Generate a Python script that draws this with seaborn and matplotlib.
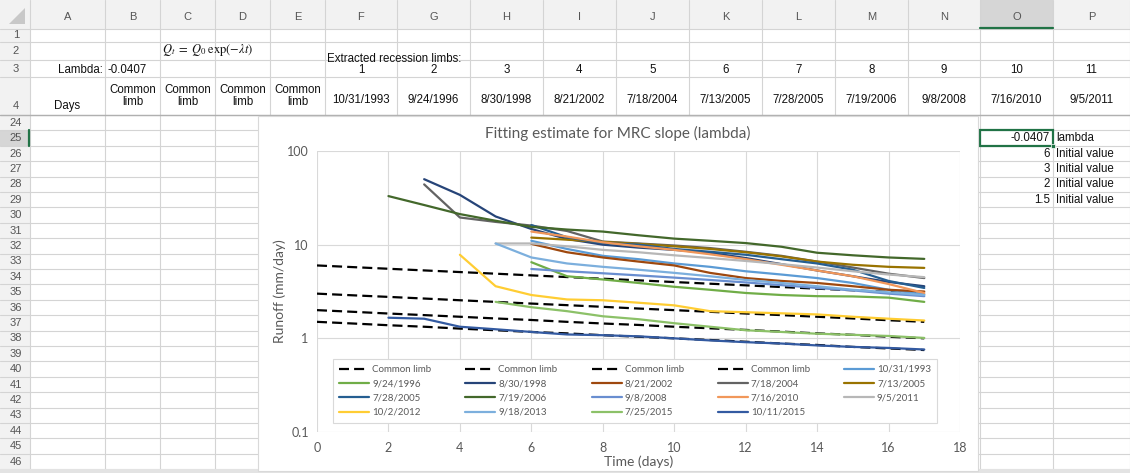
import matplotlib
matplotlib.use("Agg")
import matplotlib.pyplot as plt
from matplotlib.lines import Line2D
from matplotlib.patches import Rectangle, Polygon
from matplotlib.ticker import NullLocator
import seaborn as sns

# ---------------- data ----------------
days = list(range(0, 18))
lambda_value = -0.0407
initial_values = [6, 3, 2, 1.5]

# common limbs  Q0*exp(-0.0407 t), read at t = 0..17
common_limb_6 = [6.00, 5.76, 5.53, 5.31, 5.10, 4.90, 4.70, 4.51, 4.33, 4.16, 3.99, 3.83, 3.68, 3.53, 3.39, 3.26, 3.13, 3.00]
common_limb_3 = [3.00, 2.88, 2.77, 2.66, 2.55, 2.45, 2.35, 2.26, 2.17, 2.08, 2.00, 1.92, 1.84, 1.77, 1.70, 1.63, 1.56, 1.50]
common_limb_2 = [2.00, 1.92, 1.84, 1.77, 1.70, 1.63, 1.57, 1.50, 1.44, 1.39, 1.33, 1.28, 1.23, 1.18, 1.13, 1.09, 1.04, 1.00]
common_limb_15 = [1.50, 1.44, 1.38, 1.33, 1.27, 1.22, 1.17, 1.13, 1.08, 1.04, 1.00, 0.96, 0.92, 0.88, 0.85, 0.81, 0.78, 0.75]

# extracted recession limbs (first day, runoff values)
limb_dates = ["10/31/1993", "9/24/1996", "8/30/1998", "8/21/2002", "7/18/2004",
              "7/13/2005", "7/28/2005", "7/19/2006", "9/8/2008", "7/16/2010",
              "9/5/2011", "10/2/2012", "9/18/2013", "7/25/2015", "10/11/2015"]
limb_start_days = [6, 6, 3, 6, 3, 6, 6, 2, 6, 6, 5, 4, 5, 5, 2]

q_1993_10_31 = [11.0, 9.0, 7.6, 7.0, 6.3, 5.8, 5.2, 4.8, 4.4, 3.9, 3.3, 2.95]
q_1996_09_24 = [6.5, 4.6, 4.25, 3.9, 3.55, 3.3, 3.05, 2.9, 2.82, 2.8, 2.72, 2.45]
q_1998_08_30 = [50, 34, 20, 14.7, 11.5, 10.0, 9.3, 8.8, 8.2, 7.2, 6.2, 5.3, 4.6, 4.0, 3.6]
q_2002_08_21 = [10.2, 8.3, 7.3, 6.6, 6.0, 5.0, 4.4, 4.1, 3.9, 3.6, 3.3, 3.16]
q_2004_07_18 = [44, 19.5, 17.5, 16.0, 14.0, 10.8, 10.3, 9.8, 9.2, 8.4, 7.6, 6.6, 5.7, 4.9, 4.4]
q_2005_07_13 = [11.9, 11.3, 10.7, 10.2, 9.6, 9.0, 8.3, 7.5, 6.6, 6.1, 5.8, 5.65]
q_2005_07_28 = [16.2, 12.0, 10.4, 10.0, 9.0, 8.4, 7.8, 7.0, 6.3, 5.4, 4.1, 3.45]
q_2006_07_19 = [33, 26.5, 21.2, 18.0, 15.5, 14.5, 13.8, 12.6, 11.6, 11.0, 10.4, 9.5, 8.2, 7.7, 7.3, 7.05]
q_2008_09_08 = [5.5, 5.2, 4.95, 4.7, 4.45, 4.2, 3.95, 3.7, 3.45, 3.25, 3.0, 2.82]
q_2010_07_16 = [13.8, 12.2, 10.6, 9.6, 8.8, 7.9, 7.0, 6.1, 5.3, 4.6, 3.8, 3.05]
q_2011_09_05 = [10.3, 10.3, 9.6, 8.8, 8.3, 7.7, 7.2, 6.7, 6.2, 5.7, 5.2, 4.8, 4.5]
q_2012_10_02 = [7.8, 3.6, 2.9, 2.6, 2.55, 2.4, 2.25, 1.95, 1.9, 1.85, 1.8, 1.7, 1.62, 1.55]
q_2013_09_18 = [10.3, 7.3, 6.3, 5.8, 5.4, 5.0, 4.6, 4.2, 3.9, 3.6, 3.3, 3.1, 2.9]
q_2015_07_25 = [2.45, 2.15, 1.95, 1.72, 1.6, 1.45, 1.33, 1.22, 1.17, 1.12, 1.09, 1.06, 1.01]
q_2015_10_11 = [1.66, 1.62, 1.33, 1.25, 1.17, 1.1, 1.08, 1.05, 1.0, 0.95, 0.91, 0.88, 0.84, 0.81, 0.79, 0.76]

limb_colors = ["#5B9BD5", "#70AD47", "#264478", "#9E480E", "#636363",
               "#997300", "#255E91", "#43682B", "#698ED0", "#F1975A",
               "#B7B7B7", "#FFCD33", "#7CAFDD", "#8CC168", "#335AA1"]

x_ticks = [0, 2, 4, 6, 8, 10, 12, 14, 16, 18]
y_ticks = [0.1, 1, 10, 100]
y_tick_labels = ["0.1", "1", "10", "100"]

col_letters = list("ABCDEFGHIJKLMNOP")
limb_numbers = list(range(1, 12))

# ---------------- figure ----------------
sns.set_style("white")
plt.rcParams["font.family"] = ["Lato", "DejaVu Sans"]
plt.rcParams["mathtext.fontset"] = "stix"

W, H = 1130, 473
fig = plt.figure(figsize=(W / 100, H / 100), dpi=100)
bg = fig.add_axes([0, 0, 1, 1])
bg.set_xlim(0, W)
bg.set_ylim(H, 0)
bg.axis("off")

SHEET_FONT = ["Liberation Sans", "DejaVu Sans"]
grid_c = "#D4D4D4"
col_bounds = [30, 105, 160, 215, 270, 325, 397, 470, 543, 616, 689, 762, 835, 908, 980, 1053, 1130]
row_bounds = [0, 29, 42, 60, 77, 115] + [115 + 15.4 * i for i in range(1, 24)]
row_labels = ["1", "2", "3", "4"] + [str(k) for k in range(24, 47)]

# header backgrounds
bg.add_patch(Rectangle((0, 0), W, 29, fc="#F2F2F2", ec="none", zorder=0))
bg.add_patch(Rectangle((0, 0), 30, H, fc="#F2F2F2", ec="none", zorder=0))
# selected column O / row 25 headers
bg.add_patch(Rectangle((980, 0), 73, 29, fc="#D6D6D6", ec="none", zorder=0.5))
bg.plot([980, 1053], [28.3, 28.3], color="#217346", lw=1.6, zorder=1)
r25_top = row_bounds[6]
bg.add_patch(Rectangle((0, r25_top), 30, 15.4, fc="#D6D6D6", ec="none", zorder=0.5))
bg.plot([29.3, 29.3], [r25_top, r25_top + 15.4], color="#217346", lw=1.6, zorder=1)
# corner triangle
bg.add_patch(Polygon([[25, 8], [25, 24], [9, 24]], closed=True, fc="#C8C8C8", ec="none", zorder=1))

# grid lines
for x in col_bounds:
    bg.plot([x, x], [0, 469], color=grid_c, lw=0.8, zorder=0.8)
for y in row_bounds[1:]:
    bg.plot([0, W], [y, y], color=grid_c, lw=0.8, zorder=0.8)
bg.plot([0, W], [115, 115], color="#B0B0B0", lw=1.0, zorder=0.9)
bg.add_patch(Rectangle((0, 469), W, 4, fc="#E3E3E3", ec="none", zorder=1))

# column letters
for i, letter in enumerate(col_letters):
    cx = (col_bounds[i] + col_bounds[i + 1]) / 2
    bg.text(cx, 17, letter, ha="center", va="center", fontsize=8, color="#555555",
            family=SHEET_FONT, zorder=2)
# row numbers
for i, lab in enumerate(row_labels):
    cy = (row_bounds[i + 1] + row_bounds[i + 2]) / 2 if i + 2 < len(row_bounds) else row_bounds[i + 1] + 7.7
    if lab == "4":
        cy = 106
    bg.text(16, cy, lab, ha="center", va="center", fontsize=8, color="#555555",
            family=SHEET_FONT, zorder=2)

# cell contents
tk = dict(family=SHEET_FONT, fontsize=8.3, color="#111111", zorder=2)
bg.text(103, 70, "Lambda:", ha="right", va="center", **tk)
bg.text(107, 70, f"{lambda_value:.4f}", ha="left", va="center", **tk)
bg.text(208, 50, r"$Q_t\;=\;Q_0\;\exp(-\lambda t)$", ha="center", va="center",
        fontsize=9, color="#111111", zorder=2)
bg.text(327, 59, "Extracted recession limbs:", ha="left", va="center", **tk)
bg.text(67, 106, "Days", ha="center", va="center", **tk)
for i in range(1, 5):
    cx = (col_bounds[i] + col_bounds[i + 1]) / 2
    bg.text(cx, 96, "Common\nlimb", ha="center", va="center", linespacing=1.05, **tk)
for j, num in enumerate(limb_numbers):
    cx = (col_bounds[5 + j] + col_bounds[6 + j]) / 2
    bg.text(cx, 70, str(num), ha="center", va="center", **tk)
    bg.text(cx, 100, limb_dates[j], ha="center", va="center", **tk)

# right-hand cells (rows 25..29)
bg.text(1050, r25_top + 7.7, f"{lambda_value:.4f}", ha="right", va="center", **tk)
bg.text(1056, r25_top + 7.7, "lambda", ha="left", va="center", **tk)
for k, v in enumerate(initial_values):
    cy = r25_top + 15.4 * (k + 1) + 7.7
    bg.text(1050, cy, f"{v:g}", ha="right", va="center", **tk)
    bg.text(1056, cy, "Initial value", ha="left", va="center", **tk)
bg.add_patch(Rectangle((980, r25_top), 73, 15.4, fc="none", ec="#217346", lw=1.6, zorder=3))
bg.add_patch(Rectangle((1051, r25_top + 13.4), 4, 4, fc="#217346", ec="white", lw=0.5, zorder=3))

# chart area
bg.add_patch(Rectangle((258, 116), 720, 355, fc="white", ec="#D9D9D9", lw=0.8, zorder=4))
bg.text(618, 133, "Fitting estimate for MRC slope (lambda)", ha="center", va="center",
        fontsize=11, color="#595959", zorder=5)

# ---------------- the chart ----------------
ax = fig.add_axes([317 / W, 1 - 432 / H, (960 - 317) / W, (432 - 151) / H], zorder=10)
ax.set_facecolor("none")

dash_style = (0, (4.5, 2.3))
common = [common_limb_6, common_limb_3, common_limb_2, common_limb_15]
handles, labels = [], []
for vals in common:
    sns.lineplot(x=days[:len(vals)], y=vals, ax=ax, color="black", lw=1.6,
                 linestyle=dash_style, legend=False, zorder=3)
    handles.append(Line2D([], [], color="black", lw=1.6, linestyle=dash_style))
    labels.append("Common limb")

limbs = [q_1993_10_31, q_1996_09_24, q_1998_08_30, q_2002_08_21, q_2004_07_18,
         q_2005_07_13, q_2005_07_28, q_2006_07_19, q_2008_09_08, q_2010_07_16,
         q_2011_09_05, q_2012_10_02, q_2013_09_18, q_2015_07_25, q_2015_10_11]
for vals, start, color, lab in zip(limbs, limb_start_days, limb_colors, limb_dates):
    sns.lineplot(x=days[start:start + len(vals)], y=vals, ax=ax, color=color, lw=1.6,
                 legend=False, zorder=3)
    handles.append(Line2D([], [], color=color, lw=1.6))
    labels.append(lab)

ax.set_yscale("log")
ax.set_ylim(y_ticks[0], y_ticks[-1])
ax.set_xlim(x_ticks[0], x_ticks[-1])
ax.set_xticks(x_ticks)
ax.set_xticklabels([str(t) for t in x_ticks])
ax.set_yticks(y_ticks)
ax.set_yticklabels(y_tick_labels)
ax.yaxis.set_minor_locator(NullLocator())
ax.grid(True, which="major", color="#D9D9D9", lw=0.8, zorder=0)
for s in ax.spines.values():
    s.set_visible(False)
ax.tick_params(axis="both", length=0, labelsize=9, labelcolor="#595959")
ax.tick_params(axis="y", pad=6)
ax.tick_params(axis="x", pad=7)

ax.set_xlabel("Time (days)", fontsize=10, color="#595959", labelpad=1)
ax.set_ylabel("Runoff (mm/day)", fontsize=10, color="#595959", labelpad=1)

# Excel fills the legend row by row; matplotlib column by column
ncol, n = 5, len(handles)
order = [i * ncol + j for j in range(ncol) for i in range(4) if i * ncol + j < n]
leg = ax.legend([handles[i] for i in order], [labels[i] for i in order], ncol=ncol,
                loc="center", bbox_to_anchor=(0.4946, 0.146), frameon=True, fancybox=False,
                edgecolor="#D9D9D9", facecolor="white", framealpha=1, fontsize=7,
                handlelength=3.1, handletextpad=0.3, columnspacing=3.5,
                labelspacing=0.55, borderpad=0.6, labelcolor="#595959")
leg.get_frame().set_linewidth(0.8)

fig.savefig("out.png", dpi=100)
